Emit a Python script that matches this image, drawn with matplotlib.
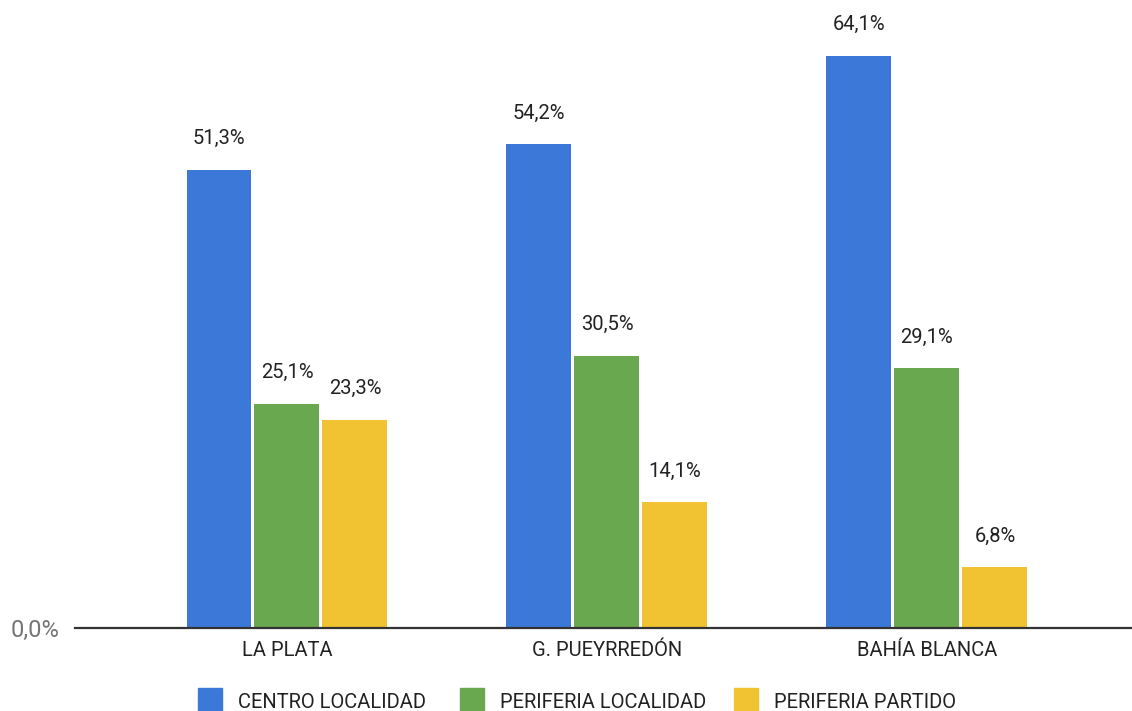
import numpy as np
import matplotlib.pyplot as plt
from matplotlib.patches import Rectangle

plt.rcParams['font.family'] = ['Roboto', 'DejaVu Sans']

ciudades = ["LA PLATA", "G. PUEYRREDÓN", "BAHÍA BLANCA"]
series = ["CENTRO LOCALIDAD", "PERIFERIA LOCALIDAD", "PERIFERIA PARTIDO"]
centro = [51.3, 54.2, 64.1]
perif_loc = [25.1, 30.5, 29.1]
perif_part = [23.3, 14.1, 6.8]
colores = ["#3c78d8", "#6aa84f", "#f1c232"]

W, H = 1132, 711
fig = plt.figure(figsize=(W / 100, H / 100), dpi=100)
# axes placed in pixel units: left 75, bottom 628 (from top), top 0
ax = fig.add_axes([75 / W, (H - 628) / H, (W - 75) / W, 628 / H])

x = np.arange(len(ciudades))
paso = 0.2125
ancho = 0.203
valores = [centro, perif_loc, perif_part]
for i, (vals, col) in enumerate(zip(valores, colores)):
    pos = x + (i - 1) * paso
    ax.bar(pos, vals, width=ancho, color=col, zorder=2)
    for px, v in zip(pos, vals):
        ax.annotate(f"{v:.1f}".replace(".", ",") + "%", (px, v),
                    xytext=(0, 15.5), textcoords="offset points",
                    ha="center", va="bottom", fontsize=14.5, color="#222222")

ax.set_xlim(-0.6625, 2.641)
ax.set_ylim(0, 628 / 8.93)
for s in ["top", "right", "left"]:
    ax.spines[s].set_visible(False)
ax.spines["bottom"].set_color("#333333")
ax.spines["bottom"].set_linewidth(1.6)
ax.set_yticks([])
ax.set_xticks(x)
ax.set_xticklabels(ciudades, fontsize=14.5, color="#222222")
ax.tick_params(axis="x", length=0, pad=9)

fig.text(60 / W, 1 - 630 / H, "0,0%", ha="right", va="center",
         fontsize=17, color="#757575")

# leyenda inferior
leg_x = [198, 460, 734]
for lx, nombre, col in zip(leg_x, series, colores):
    fig.add_artist(Rectangle((lx / W, 1 - 712 / H), 24 / W, 24 / H,
                             transform=fig.transFigure, color=col,
                             clip_on=False))
    fig.text((lx + 40) / W, 1 - 702 / H, nombre, ha="left", va="center",
             fontsize=14.5, color="#222222")

fig.savefig("out.png", dpi=100)
